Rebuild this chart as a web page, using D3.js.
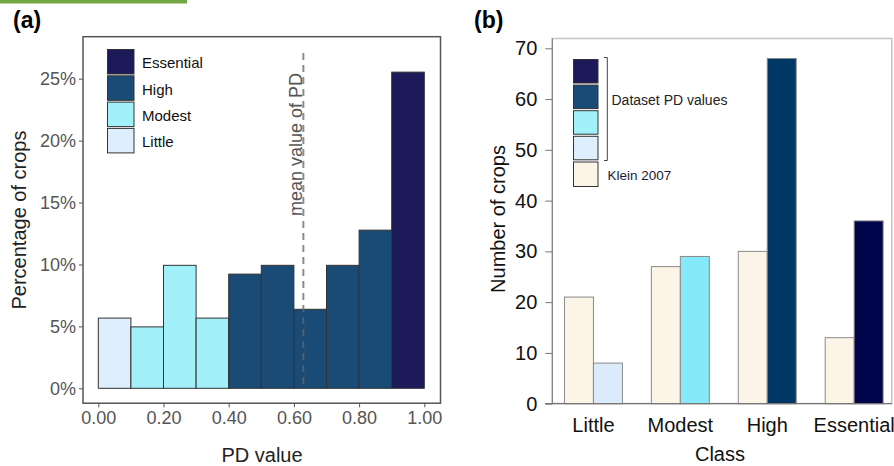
<!DOCTYPE html>
<html>
<head>
<meta charset="utf-8">
<script src="https://cdn.jsdelivr.net/npm/d3@7"></script>
<style>
  body { margin: 0; background: #fff; }
  svg { font-family: "Liberation Sans", Arial, sans-serif; }
</style>
</head>
<body>
<div id="chart"></div>
<script>
// panel (a): histogram of PD values, share of crops per 0.1 bin
const binStarts = [0, 0.1, 0.2, 0.3, 0.4, 0.5, 0.6, 0.7, 0.8, 0.9];
const binPct = [5.67, 4.96, 9.93, 5.67, 9.22, 9.93, 6.38, 9.93, 12.77, 25.53];
const binClass = ['Little', 'Modest', 'Modest', 'Modest', 'High', 'High', 'High', 'High', 'High', 'Essential'];
const meanPD = 0.629;
const pctTicks = [0, 5, 10, 15, 20, 25];
const pdTicks = [0, 0.2, 0.4, 0.6, 0.8, 1.0];

// panel (b): number of crops per class
const classes = ['Little', 'Modest', 'High', 'Essential'];
const klein2007 = [21, 27, 30, 13];
const datasetPD = [8, 29, 68, 36];
const countTicks = [0, 10, 20, 30, 40, 50, 60, 70];

const colA = {Little: '#deeefc', Modest: '#a2f0fa', High: '#1a4a76', Essential: '#1c1a58'};
const colB = {Little: '#dcebfb', Modest: '#86e9fa', High: '#003764', Essential: '#00044a'};
const kleinCol = '#fcf4e6';

const w = 894, h = 466;
const svg = d3.select('#chart').append('svg').attr('width', w).attr('height', h);

// green strip at the top
svg.append('rect').attr('x', 0).attr('y', 0).attr('width', 187).attr('height', 3.5).attr('fill', '#72a843');

// ---------- panel (a) ----------
svg.append('text').attr('x', 13).attr('y', 28).attr('font-size', 23).attr('font-weight', 'bold').text('(a)');

let xA = d3.scaleLinear().domain([0, 1]).range([98.3, 424.3]);
let yA = d3.scaleLinear().domain([0, 25]).range([388.3, 78.7]);

svg.append('rect')
  .attr('x', 83).attr('y', 36.7).attr('width', 357.5).attr('height', 366.5)
  .attr('fill', 'none').attr('stroke', '#555').attr('stroke-width', 1.5);

svg.selectAll('.binA')
  .data(binPct)
  .enter()
  .append('rect')
  .attr('class', 'binA')
  .attr('x', (d, i) => xA(binStarts[i]))
  .attr('y', d => yA(d))
  .attr('width', (d, i) => xA(binStarts[i] + 0.1) - xA(binStarts[i]))
  .attr('height', d => yA(0) - yA(d))
  .attr('fill', (d, i) => colA[binClass[i]])
  .attr('stroke', '#333')
  .attr('stroke-width', 1);

// mean line
svg.append('line')
  .attr('x1', xA(meanPD)).attr('x2', xA(meanPD))
  .attr('y1', 53).attr('y2', yA(0))
  .attr('stroke', '#666').attr('stroke-width', 2).attr('stroke-dasharray', '7,5').attr('opacity', 0.75);

svg.append('text')
  .attr('transform', 'translate(' + (xA(meanPD) - 1.5) + ',216) rotate(-90)')
  .attr('font-size', 18).attr('fill', '#555')
  .text('mean value of PD');

const yAxisA = d3.axisLeft(yA).tickValues(pctTicks).tickFormat(d => d + '%').tickSize(4).tickPadding(3);
const gYA = svg.append('g').attr('transform', 'translate(83,0)').call(yAxisA);
const xAxisA = d3.axisBottom(xA).tickValues(pdTicks).tickFormat(d3.format('.2f')).tickSize(4).tickPadding(4);
const gXA = svg.append('g').attr('transform', 'translate(0,403.3)').call(xAxisA);
[gYA, gXA].forEach(g => {
  g.select('.domain').remove();
  g.selectAll('line').attr('stroke', '#555');
  g.selectAll('text').attr('font-size', 18).attr('fill', '#555').attr('font-family', '"Liberation Sans", Arial, sans-serif');
});

svg.append('text').attr('x', 262).attr('y', 461.5).attr('text-anchor', 'middle').attr('font-size', 20).attr('fill', '#222').text('PD value');
svg.append('text').attr('transform', 'translate(26,220) rotate(-90)').attr('text-anchor', 'middle')
  .attr('font-size', 20).attr('fill', '#222').text('Percentage of crops');

// legend (a)
const legA = ['Essential', 'High', 'Modest', 'Little'];
legA.forEach((c, i) => {
  svg.append('rect').attr('x', 107.5).attr('y', 49.5 + i * 26.3).attr('width', 26.5).attr('height', 24.5)
    .attr('fill', colA[c]).attr('stroke', '#333').attr('stroke-width', 1);
  svg.append('text').attr('x', 142).attr('y', 68.3 + i * 26.3).attr('font-size', 15).attr('fill', '#111').text(c);
});

// ---------- panel (b) ----------
svg.append('text').attr('x', 474).attr('y', 28).attr('font-size', 23).attr('font-weight', 'bold').text('(b)');

let xB = d3.scaleBand().domain(classes).range([552.3, 895.3]).paddingInner(1 / 3).paddingOuter(0.14);
let yB = d3.scaleLinear().domain([0, 70]).range([403.7, 48.3]);

svg.append('rect')
  .attr('x', 552.3).attr('y', 38.5).attr('width', 339.5).attr('height', 365)
  .attr('fill', 'none').attr('stroke', '#c4c4c4').attr('stroke-width', 1.5);

const half = xB.bandwidth() / 2;
svg.selectAll('.klein')
  .data(klein2007)
  .enter()
  .append('rect')
  .attr('class', 'klein')
  .attr('x', (d, i) => xB(classes[i]))
  .attr('y', d => yB(d))
  .attr('width', half)
  .attr('height', d => yB(0) - yB(d))
  .attr('fill', kleinCol)
  .attr('stroke', '#8a8a8a');

svg.selectAll('.dataset')
  .data(datasetPD)
  .enter()
  .append('rect')
  .attr('class', 'dataset')
  .attr('x', (d, i) => xB(classes[i]) + half)
  .attr('y', d => yB(d))
  .attr('width', half)
  .attr('height', d => yB(0) - yB(d))
  .attr('fill', (d, i) => colB[classes[i]])
  .attr('stroke', '#8a8a8a');

const yAxisB = d3.axisLeft(yB).tickValues(countTicks).tickSize(7).tickPadding(8);
const gYB = svg.append('g').attr('transform', 'translate(552.3,0)').call(yAxisB);
gYB.select('.domain').attr('stroke', '#777').attr('d', 'M0,38.5V403.7');
gYB.selectAll('line').attr('stroke', '#777');
gYB.selectAll('text').attr('font-size', 20).attr('fill', '#111').attr('font-family', '"Liberation Sans", Arial, sans-serif');

svg.append('line').attr('x1', 545).attr('x2', 892).attr('y1', 403.7).attr('y2', 403.7).attr('stroke', '#777').attr('stroke-width', 1.2);

const xAxisB = d3.axisBottom(xB).tickSize(0).tickPadding(14);
const gXB = svg.append('g').attr('transform', 'translate(0,403.7)').call(xAxisB);
gXB.select('.domain').remove();
gXB.selectAll('text').attr('font-size', 20).attr('fill', '#111').attr('font-family', '"Liberation Sans", Arial, sans-serif');

svg.append('text').attr('x', 720).attr('y', 461).attr('text-anchor', 'middle').attr('font-size', 20).attr('fill', '#111').text('Class');
svg.append('text').attr('transform', 'translate(505,219) rotate(-90)').attr('text-anchor', 'middle')
  .attr('font-size', 20).attr('fill', '#111').text('Number of crops');

// legend (b)
const legB = ['Essential', 'High', 'Modest', 'Little'];
legB.forEach((c, i) => {
  svg.append('rect').attr('x', 573.5).attr('y', 59.5 + i * 25.6).attr('width', 24.5).attr('height', 23.5)
    .attr('fill', colA[c]).attr('stroke', '#333').attr('stroke-width', 1);
});
svg.append('rect').attr('x', 573.5).attr('y', 162).attr('width', 24.5).attr('height', 24.5)
  .attr('fill', kleinCol).attr('stroke', '#333').attr('stroke-width', 1);
svg.append('path').attr('d', 'M604,57.5H607.3V160.5H604').attr('fill', 'none').attr('stroke', '#444').attr('stroke-width', 1);
svg.append('text').attr('x', 611.5).attr('y', 105).attr('font-size', 14).attr('fill', '#222').text('Dataset PD values');
svg.append('text').attr('x', 607.5).attr('y', 180).attr('font-size', 13.5).attr('fill', '#1a1a3a').text('Klein 2007');
</script>
</body>
</html>
